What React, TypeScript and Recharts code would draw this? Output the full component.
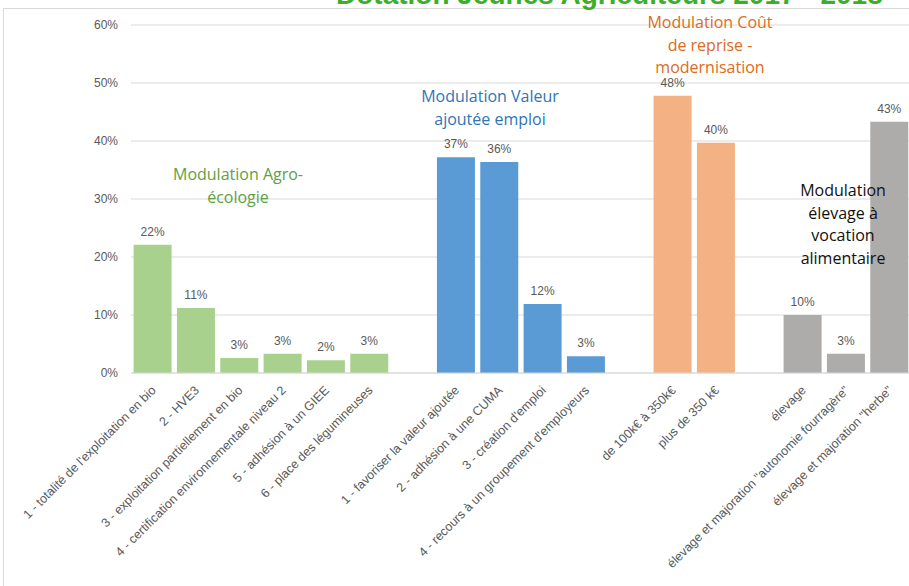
import React from 'react';
import { BarChart, Bar, XAxis, YAxis, CartesianGrid, Cell, LabelList } from 'recharts';

const agroLabels = [
  "1 - totalité de l'exploitation en bio",
  '2 - HVE3',
  '3 - exploitation partiellement en bio',
  '4 - certification environnementale niveau 2',
  '5 - adhésion à un GIEE',
  '6 - place des légumineuses',
];
const agroValues = [22.1, 11.2, 2.6, 3.3, 2.2, 3.3];

const vaeLabels = [
  '1 - favoriser la valeur ajoutée',
  '2 - adhésion à une CUMA',
  "3 - création d'emploi",
  "4 - recours à un groupement d'employeurs",
];
const vaeValues = [37.2, 36.4, 11.9, 2.9];

const repriseLabels = ['de 100k€ à 350k€', 'plus de 350 k€'];
const repriseValues = [47.8, 39.7];

const elevageLabels = [
  'élevage',
  'élevage et majoration "autonomie fourragère"',
  'élevage et majoration "herbe"',
];
const elevageValues = [10, 3.3, 43.3];

const yTicks = [0, 10, 20, 30, 40, 50, 60];

const groups = [
  { labels: agroLabels, values: agroValues, color: '#A9D18E' },
  { labels: vaeLabels, values: vaeValues, color: '#5B9BD5' },
  { labels: repriseLabels, values: repriseValues, color: '#F4B183' },
  { labels: elevageLabels, values: elevageValues, color: '#AEABAB' },
];

type Row = { name: string; v: number | null; color: string };
const data: Row[] = [];
groups.forEach((g, gi) => {
  g.labels.forEach((l, i) => data.push({ name: l, v: g.values[i], color: g.color }));
  if (gi < groups.length - 1) data.push({ name: '', v: null, color: 'none' });
});

const XTick = (props: any) => {
  const { x, y, payload } = props;
  if (!payload || !payload.value) return null;
  const tx = x + 4;
  const ty = y + 16;
  return (
    <text
      x={tx}
      y={ty}
      transform={`rotate(-45, ${tx}, ${ty})`}
      textAnchor="end"
      fontSize={12.5}
      fill="#595959"
      fontFamily="'Liberation Sans', Arial, sans-serif"
    >
      {payload.value}
    </text>
  );
};

const annoBase: React.CSSProperties = {
  position: 'absolute',
  textAlign: 'center',
  fontFamily: "'Open Sans', sans-serif",
  fontSize: 16,
  lineHeight: '22.5px',
  whiteSpace: 'nowrap',
  transform: 'translateX(-50%)',
};

export default function App() {
  return (
    <div
      style={{
        position: 'fixed',
        left: 0,
        top: 0,
        width: 909,
        height: 586,
        overflow: 'hidden',
        background: '#ffffff',
      }}
    >
      <div
        style={{
          position: 'absolute',
          left: 3,
          top: 8,
          width: 1000,
          height: 700,
          borderLeft: '1px solid #d9d9d9',
          borderTop: '1px solid #d9d9d9',
        }}
      />
      <div style={{ position: 'absolute', left: 0, top: 0 }}>
        <BarChart
          width={940}
          height={586}
          data={data}
          margin={{ top: 25, right: 29, bottom: 0, left: 0 }}
          barCategoryGap="6%"
        >
          <CartesianGrid vertical={false} stroke="#d9d9d9" />
          <XAxis
            dataKey="name"
            interval={0}
            tick={(p: any) => <XTick {...p} />}
            tickLine={false}
            tickSize={0}
            axisLine={{ stroke: '#d9d9d9' }}
            height={213}
          />
          <YAxis
            domain={[0, 60]}
            ticks={yTicks}
            tickFormatter={(v: number) => `${v}%`}
            axisLine={false}
            tickLine={false}
            tickSize={0}
            tickMargin={13}
            width={131}
            tick={{ fill: '#595959', fontSize: 12, fontFamily: "'Liberation Sans', Arial, sans-serif" }}
          />
          <Bar dataKey="v" isAnimationActive={false}>
            {data.map((d, i) => (
              <Cell key={i} fill={d.color} />
            ))}
            <LabelList
              dataKey="v"
              position="top"
              offset={9}
              formatter={(v: any) => (v == null ? '' : `${Math.round(Number(v))}%`)}
              fill="#595959"
              fontSize={12}
              fontFamily="'Liberation Sans', Arial, sans-serif"
            />
          </Bar>
        </BarChart>
      </div>
      <div
        style={{
          position: 'absolute',
          left: 336,
          top: -21,
          fontFamily: "'Liberation Sans', Arial, sans-serif",
          fontWeight: 'bold',
          fontSize: 28,
          color: '#3DAE2B',
          whiteSpace: 'nowrap',
        }}
      >
        Dotation Jeunes Agriculteurs 2017 - 2018
      </div>
      <div style={{ ...annoBase, left: 238, top: 163, color: '#62A03F' }}>
        Modulation Agro-
        <br />
        écologie
      </div>
      <div style={{ ...annoBase, left: 490, top: 85, color: '#2F75B5' }}>
        Modulation Valeur
        <br />
        ajoutée emploi
      </div>
      <div style={{ ...annoBase, left: 710, top: 11, color: '#DD6B20' }}>
        Modulation Coût
        <br />
        de reprise -
        <br />
        modernisation
      </div>
      <div style={{ ...annoBase, left: 843, top: 179, color: '#111111' }}>
        Modulation
        <br />
        élevage à
        <br />
        vocation
        <br />
        alimentaire
      </div>
    </div>
  );
}
